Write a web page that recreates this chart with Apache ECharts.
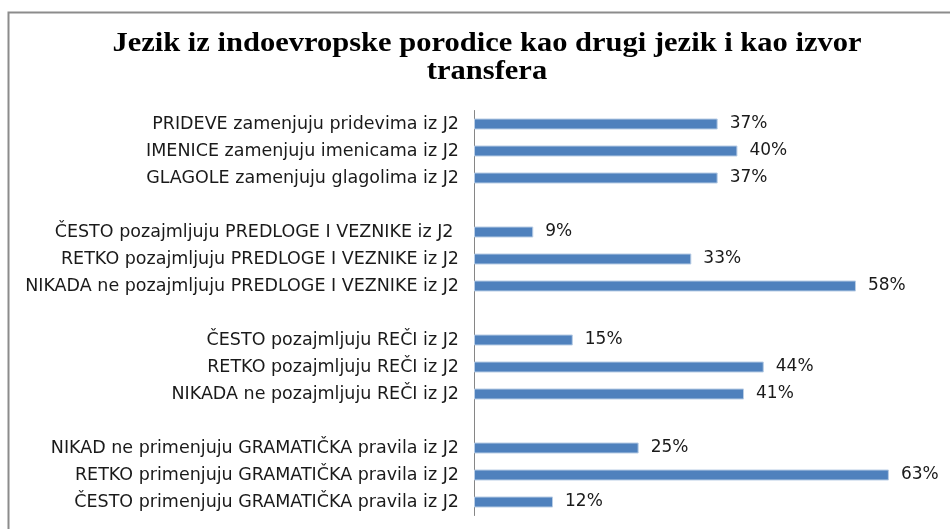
<!DOCTYPE html>
<html>
<head>
    <meta charset="utf-8">
    <title>ECharts</title>
    <script src="https://cdn.jsdelivr.net/npm/echarts@6/dist/echarts.min.js"></script>
    <style>
        body { margin: 0; background: #fff; }
        #main { width: 950px; height: 529px; }
    </style>
</head>
<body>
    <div id="main"></div>
    <script type="text/javascript">
        var chartTitle = 'Jezik iz indoevropske porodice kao drugi jezik i kao izvor\ntransfera';
        // kategorije (prazne stavke su razmaci izmedju grupa)
        var categories = [
            'PRIDEVE zamenjuju pridevima iz J2',
            'IMENICE zamenjuju imenicama iz J2',
            'GLAGOLE zamenjuju glagolima iz J2',
            '',
            'ČESTO pozajmljuju PREDLOGE I VEZNIKE iz J2 ',
            'RETKO pozajmljuju PREDLOGE I VEZNIKE iz J2',
            'NIKADA ne pozajmljuju PREDLOGE I VEZNIKE iz J2',
            '',
            'ČESTO pozajmljuju REČI iz J2',
            'RETKO pozajmljuju REČI iz J2',
            'NIKADA ne pozajmljuju REČI iz J2',
            '',
            'NIKAD ne primenjuju GRAMATIČKA pravila iz J2',
            'RETKO primenjuju GRAMATIČKA pravila iz J2',
            'ČESTO primenjuju GRAMATIČKA pravila iz J2'
        ];
        // procenti
        var values = [37, 40, 37, '-', 9, 33, 58, '-', 15, 44, 41, '-', 25, 63, 12];

        var myChart = echarts.init(document.getElementById('main'));
        myChart.setOption({
            animation: false,
            graphic: [{
                type: 'rect',
                shape: { x: 8.5, y: 12.5, width: 960, height: 540 },
                style: { fill: 'none', stroke: '#8c8c8c', lineWidth: 2 },
                silent: true
            }, {
                // naslov je malo razvucen po sirini, kao u originalu
                type: 'text',
                x: 487,
                y: 30,
                scaleX: 1.09,
                style: {
                    text: chartTitle,
                    font: 'bold 28px "Liberation Serif"',
                    lineHeight: 28,
                    fill: '#000',
                    align: 'center',
                    verticalAlign: 'top'
                },
                silent: true
            }],
            grid: {
                left: 474,
                top: 110.5,
                height: 405,
                width: 461
            },
            xAxis: {
                type: 'value',
                min: 0,
                max: 70,
                show: false
            },
            yAxis: {
                type: 'category',
                inverse: true,
                data: categories,
                axisLine: { show: true, lineStyle: { color: '#868686', width: 1 } },
                axisTick: { show: false },
                axisLabel: {
                    margin: 15,
                    fontFamily: 'DejaVu Sans',
                    fontSize: 17.5,
                    color: '#1a1a1a'
                }
            },
            series: [{
                type: 'bar',
                data: values,
                barWidth: 11,
                itemStyle: {
                    color: '#4F81BD',
                    borderColor: '#B9CDE5',
                    borderWidth: 1
                },
                label: {
                    show: true,
                    position: 'right',
                    distance: 12,
                    formatter: '{c}%',
                    fontFamily: 'DejaVu Sans',
                    fontSize: 17,
                    color: '#1a1a1a'
                }
            }]
        });
    </script>
</body>
</html>
